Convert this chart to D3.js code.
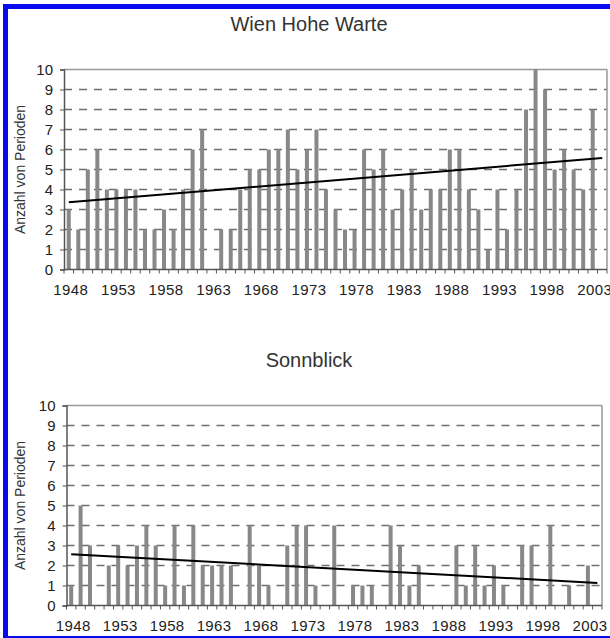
<!DOCTYPE html>
<html><head><meta charset="utf-8">
<script src="https://cdn.jsdelivr.net/npm/d3@7"></script>
<style>body{margin:0;background:#fff}svg{display:block;font-family:"Liberation Sans",Arial,sans-serif}</style>
</head><body><svg id="c" width="610" height="638"></svg>
<script>
const years = [1948,1949,1950,1951,1952,1953,1954,1955,1956,1957,1958,1959,1960,1961,1962,1963,1964,1965,1966,1967,1968,1969,1970,1971,1972,1973,1974,1975,1976,1977,1978,1979,1980,1981,1982,1983,1984,1985,1986,1987,1988,1989,1990,1991,1992,1993,1994,1995,1996,1997,1998,1999,2000,2001,2002,2003,2004];
const tickYears = [1948,1953,1958,1963,1968,1973,1978,1983,1988,1993,1998,2003];
const yTicks = [0,1,2,3,4,5,6,7,8,9,10];
const wienValues = [3,2,5,6,4,4,4,4,2,2, 3,2,4,6,7,0,2,2,4,5, 5,6,6,7,5,6,7,4,3,2, 2,6,5,6,3,4,5,3,4,4, 6,6,4,3,1,4,2,4,8,10, 9,5,6,5,4,8,null];
const sonnblickValues = [1,5,3,0,2,3,2,3,4,3, 1,4,1,4,2,2,2,2,0,4, 2,1,0,3,4,4,1,0,4,0, 1,1,1,0,4,3,1,2,0,0, 0,3,1,3,1,2,1,0,3,3, 0,4,0,1,0,2,null];
const titles = ["Wien Hohe Warte", "Sonnblick"];
const yTitle = "Anzahl von Perioden";

const svg = d3.select("#c");
svg.append("rect").attr("x",0).attr("y",0).attr("width",610).attr("height",638).attr("fill","#fff");
// blue frame
svg.append("rect").attr("x",5.5).attr("y",6.5).attr("width",700).attr("height",632)
  .attr("fill","none").attr("stroke","#0a0af0").attr("stroke-width",5);

const panels = [
  {title: titles[0], values: wienValues, left: 64, right: 607, top: 69.5, bottom: 269.5, titleY: 31},
  {title: titles[1], values: sonnblickValues, left: 66.5, right: 602, top: 405.5, bottom: 605.5, titleY: 367}
];

panels.forEach(p => {
  const g = svg.append("g");
  const x = d3.scaleBand().domain(years).range([p.left, p.right]).padding(0);
  const y = d3.scaleLinear().domain([0,10]).range([p.bottom, p.top]);

  g.append("text").attr("x", 309).attr("y", p.titleY).attr("text-anchor","middle")
    .attr("font-size", 20).attr("fill","#333").text(p.title);

  // gridlines
  g.selectAll("line.grid").data(yTicks.filter(d => d > 0 && d < 10)).join("line")
    .attr("x1", p.left).attr("x2", p.right).attr("y1", d => y(d)).attr("y2", d => y(d))
    .attr("stroke","#6e6e6e").attr("stroke-width",1.7).attr("stroke-dasharray","8,7");
  // frame top & right
  g.append("line").attr("x1",p.left).attr("x2",p.right).attr("y1",y(10)).attr("y2",y(10))
    .attr("stroke","#999").attr("stroke-width",1.5);
  g.append("line").attr("x1",p.right).attr("x2",p.right).attr("y1",y(10)).attr("y2",y(0))
    .attr("stroke","#999").attr("stroke-width",1.5);

  // bars
  const bw = 4;
  g.selectAll("rect.bar").data(years.map((yr,i)=>({yr, v:p.values[i]})).filter(d=>d.v)).join("rect")
    .attr("x", d => x(d.yr) + x.bandwidth()/2 - bw/2).attr("width", bw)
    .attr("y", d => y(d.v)).attr("height", d => y(0) - y(d.v))
    .attr("fill","#888");

  // axes
  const yAxis = d3.axisLeft(y).tickValues(yTicks).tickSize(4).tickPadding(7).tickFormat(d3.format("d"));
  const ya = g.append("g").attr("transform",`translate(${p.left},0)`).call(yAxis);
  ya.select(".domain").attr("stroke","#555").attr("stroke-width",1.5);
  ya.selectAll(".tick line").attr("stroke","#555");
  ya.selectAll("text").attr("font-size",15).attr("fill","#222").attr("font-family",'"Liberation Sans",Arial,sans-serif');

  g.append("line").attr("x1",p.left).attr("x2",p.right).attr("y1",y(0)).attr("y2",y(0))
    .attr("stroke","#555").attr("stroke-width",1.5);
  g.selectAll("line.xt").data(years.concat([null])).join("line")
    .attr("x1",(d,i)=>p.left + i*x.step()).attr("x2",(d,i)=>p.left + i*x.step())
    .attr("y1",y(0)).attr("y2",y(0)+4).attr("stroke","#555").attr("stroke-width",1);
  g.selectAll("text.xl").data(tickYears).join("text")
    .attr("x", d => x(d) + x.bandwidth()/2 + 2).attr("y", y(0) + 25)
    .attr("text-anchor","middle").attr("font-size",15).attr("letter-spacing",0.4)
    .attr("fill","#222").text(d => d);

  // y title
  g.append("text").attr("transform",`translate(25,${(p.top+p.bottom)/2}) rotate(-90)`)
    .attr("text-anchor","middle").attr("font-size",14).attr("fill","#333").text(yTitle);

  // linear trend from data
  const pts = years.map((yr,i)=>[i, p.values[i]]).filter(d => d[1] !== null);
  const mx = d3.mean(pts, d=>d[0]), my = d3.mean(pts, d=>d[1]);
  const slope = d3.sum(pts, d=>(d[0]-mx)*(d[1]-my)) / d3.sum(pts, d=>(d[0]-mx)**2);
  const icpt = my - slope*mx;
  const i0 = 0, i1 = years.length - 1;
  g.append("line")
    .attr("x1", x(years[i0]) + x.bandwidth()/2).attr("y1", y(icpt + slope*i0))
    .attr("x2", x(years[i1]) + x.bandwidth()/2).attr("y2", y(icpt + slope*i1))
    .attr("stroke","#000").attr("stroke-width",2);
});
</script></body></html>
